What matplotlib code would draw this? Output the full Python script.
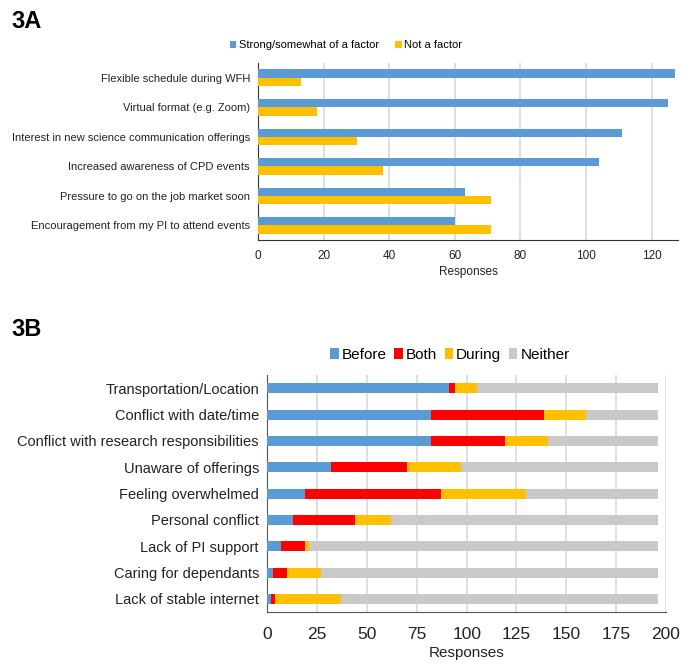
import numpy as np
import matplotlib
matplotlib.use("Agg")
import matplotlib.pyplot as plt

# --- 3A data ---
factors = ["Flexible schedule during WFH", "Virtual format (e.g. Zoom)",
           "Interest in new science communication offerings",
           "Increased awareness of CPD events",
           "Pressure to go on the job market soon",
           "Encouragement from my PI to attend events"]
strong = [127, 125, 111, 104, 63, 60]
not_factor = [13, 18, 30, 38, 71, 71]

# --- 3B data ---
barriers = ["Transportation/Location", "Conflict with date/time",
            "Conflict with research responsibilities", "Unaware of offerings",
            "Feeling overwhelmed", "Personal conflict", "Lack of PI support",
            "Caring for dependants", "Lack of stable internet"]
before = [91, 82, 82, 32, 19, 13, 7, 3, 2]
both = [3, 57, 37, 38, 68, 31, 12, 7, 2]
during = [11, 21, 22, 27, 43, 18, 2, 17, 33]
neither = [91, 36, 55, 99, 66, 134, 175, 169, 159]

BLUE = "#5B9BD5"
YELLOW = "#FFC000"
RED = "#FF0000"
GREY = "#C9C9C9"
GRID = "#D9D9D9"
TXT = "#222222"

plt.rcParams["font.family"] = ["Liberation Sans", "DejaVu Sans"]

fig = plt.figure(figsize=(6.9, 6.71), dpi=100)

# ---------------- 3A ----------------
ax1 = fig.add_axes([0.3743, 0.6423, 0.608, 0.2638])
y = np.arange(len(factors))
h = 0.28
ax1.barh(y - h / 2, strong, height=h, color=BLUE, label="Strong/somewhat of a factor", zorder=3)
ax1.barh(y + h / 2, not_factor, height=h, color=YELLOW, label="Not a factor", zorder=3)
ax1.set_ylim(len(factors) - 0.5, -0.5)
ax1.set_xlim(0, 128)
ax1.set_xticks(range(0, 121, 20))
ax1.set_yticks(y)
ax1.set_yticklabels(factors, fontsize=8, color=TXT)
ax1.tick_params(axis="x", labelsize=8.5, length=0, pad=7, colors=TXT)
ax1.tick_params(axis="y", length=0, pad=6)
ax1.xaxis.grid(True, color=GRID, lw=1.2, zorder=0)
for s in ["top", "right"]:
    ax1.spines[s].set_visible(False)
for s in ["left", "bottom"]:
    ax1.spines[s].set_color("#333333")
ax1.set_xlabel("Responses", fontsize=8.5, labelpad=3, color=TXT)
ax1.legend(loc="center", bbox_to_anchor=(346 / 690, 1 - 45 / 671), bbox_transform=fig.transFigure,
           ncol=2, frameon=False, fontsize=8, handlelength=0.6, handleheight=0.6,
           handletextpad=0.2, columnspacing=1.5)

fig.text(11 / 690, 1 - 22 / 671, "3A", fontsize=17, fontweight="bold", va="center")

# ---------------- 3B ----------------
ax2 = fig.add_axes([0.3874, 0.0879, 0.5778, 0.3532])
y2 = np.arange(len(barriers))
h2 = 0.38
left = np.zeros(len(barriers))
for vals, col, lab in [(before, BLUE, "Before"), (both, RED, "Both"),
                       (during, YELLOW, "During"), (neither, GREY, "Neither")]:
    ax2.barh(y2, vals, left=left, height=h2, color=col, label=lab, zorder=3)
    left = left + np.array(vals)
ax2.set_ylim(len(barriers) - 0.5, -0.5)
ax2.set_xlim(0, 200)
ax2.set_xticks(range(0, 201, 25))
ax2.set_yticks(y2)
ax2.set_yticklabels(barriers, fontsize=10.5, color=TXT)
ax2.tick_params(axis="x", labelsize=12.5, length=0, pad=11, colors=TXT)
ax2.tick_params(axis="y", length=0, pad=6)
ax2.xaxis.grid(True, color=GRID, lw=1.2, zorder=0)
for s in ["top", "right"]:
    ax2.spines[s].set_visible(False)
for s in ["left", "bottom"]:
    ax2.spines[s].set_color("#555555")
ax2.set_xlabel("Responses", fontsize=11, labelpad=3, color=TXT)
ax2.legend(loc="center", bbox_to_anchor=(450 / 690, 1 - 355 / 671), bbox_transform=fig.transFigure,
           ncol=4, frameon=False, fontsize=11, handlelength=0.55, handleheight=0.7,
           handletextpad=0.2, columnspacing=0.5)

fig.text(11 / 690, 1 - 329 / 671, "3B", fontsize=17, fontweight="bold", va="center")

fig.savefig("out.png", dpi=100)
